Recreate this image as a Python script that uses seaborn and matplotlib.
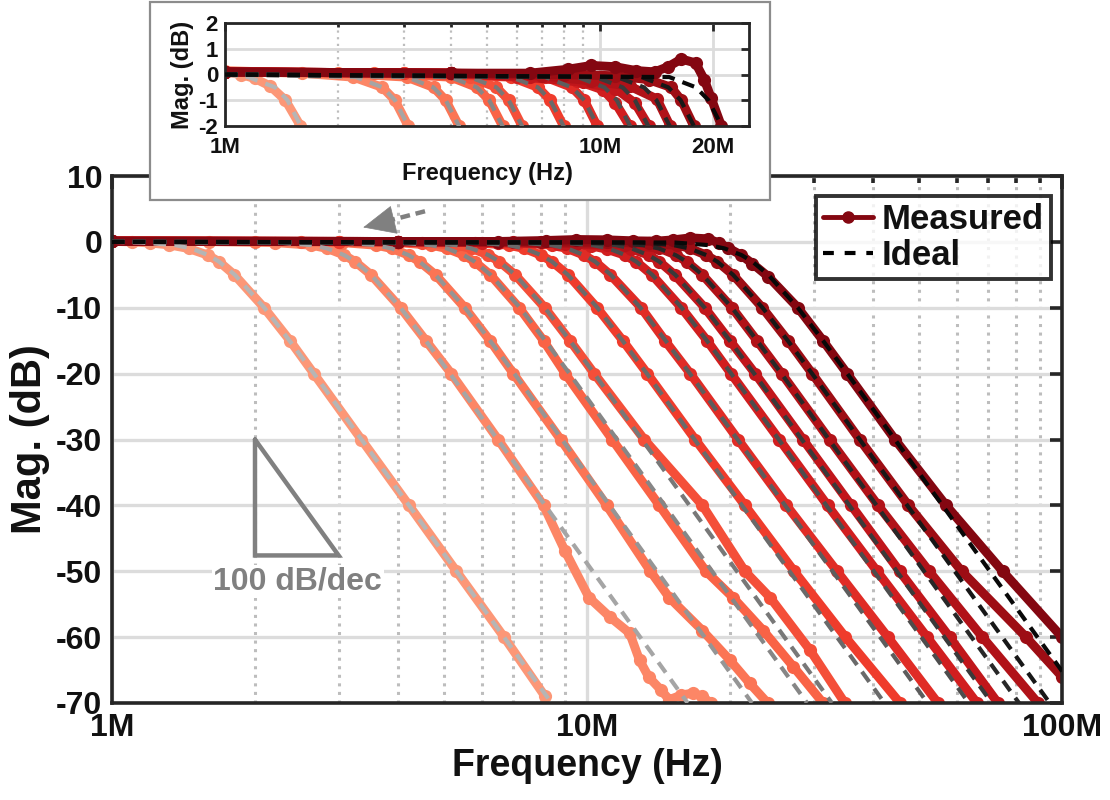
import numpy as np
import matplotlib
matplotlib.use("Agg")
import matplotlib.pyplot as plt
from matplotlib.lines import Line2D
from matplotlib.patches import Rectangle
from matplotlib.ticker import FixedLocator, FixedFormatter, NullFormatter
import seaborn as sns

# ---------------------------------------------------------------------------
# Measured low-pass responses (frequency in MHz, magnitude in dB), lightest
# (lowest cutoff) to darkest (highest cutoff).
# ---------------------------------------------------------------------------
m1_f = [1.0, 1.10, 1.20, 1.32, 1.45, 1.59, 1.68, 1.81, 2.09, 2.37, 2.66, 3.35, 4.22, 5.31, 6.69, 8.16]
m1_db = [0.1, 0.0, -0.15, -0.45, -1.0, -2.0, -3.0, -5.0, -10, -15, -20, -30, -40, -50, -60, -69]

m2_f = [1.0, 1.6, 2.2, 2.63, 2.84, 3.08, 3.25, 3.51, 4.05, 4.58, 5.18, 6.50, 8.10, 9.0, 10.1,
        11.2, 12.3, 12.9, 13.5, 14.3, 14.9, 15.8, 16.7, 17.5, 18.2]
m2_db = [0.15, 0.05, -0.1, -0.5, -1.0, -2.0, -3.0, -5.0, -10, -15, -20, -30, -40, -47, -54,
         -57, -59.4, -63.5, -66.1, -68, -69.5, -68.8, -68.5, -69, -70]

m3_f = [1.0, 2.0, 3.05, 3.60, 3.88, 4.21, 4.44, 4.80, 5.53, 6.25, 7.0, 8.8, 11.0, 13.6, 14.9, 17.5, 20.0, 22.0, 24.0]
m3_db = [0.1, 0.05, -0.1, -0.5, -1, -2, -3, -5, -10, -15, -20, -30, -40, -50, -54, -59, -63.5, -67, -70]

m4_f = [1.0, 2.5, 4.0, 4.70, 5.07, 5.50, 5.80, 6.26, 7.2, 8.1, 9.0, 11.3, 14.2, 17.8, 20.3, 23.5, 27.2, 31.4]
m4_db = [0.1, 0.05, -0.1, -0.5, -1, -2, -3, -5, -10, -15, -20, -30, -40, -50, -54, -59, -64.5, -70]

m5_f = [1.0, 3.0, 4.5, 5.30, 5.72, 6.20, 6.54, 7.06, 8.15, 9.21, 10.36, 13.2, 17.5, 21.5, 24.3, 29.5, 34.9]
m5_db = [0.1, 0.05, -0.1, -0.5, -1, -2, -3, -5, -10, -15, -20, -30, -40, -50, -54, -62, -70]

m6_f = [1.0, 3.0, 5.8, 6.84, 7.38, 8.0, 8.44, 9.12, 10.5, 11.9, 13.4, 16.9, 21.5, 27.3, 35.0, 45.6]
m6_db = [0.1, 0.05, -0.1, -0.5, -1, -2, -3, -5, -10, -15, -20, -30, -40, -50, -60, -70]

m7_f = [1.0, 4.0, 7.15, 8.42, 9.09, 9.84, 10.4, 11.2, 13.0, 14.6, 16.5, 20.8, 26.3, 33.6, 43.0, 54.8]
m7_db = [0.1, 0.05, -0.1, -0.5, -1, -2, -3, -5, -10, -15, -20, -30, -40, -50, -60, -70]

m8_f = [1.0, 4.0, 6.0, 8.7, 10.2, 11.0, 12.0, 12.7, 13.7, 15.8, 17.9, 20.1, 25.4, 32.1, 40.8, 52.0, 66.2]
m8_db = [0.1, 0.05, -0.1, -0.25, -0.6, -1.1, -2, -3, -5, -10, -15, -20, -30, -40, -50, -60, -70]

m9_f = [1.0, 4.0, 6.5, 9.0, 11.0, 12.4, 13.5, 14.2, 15.3, 17.7, 20.0, 22.6, 28.5, 36.0, 45.5, 58.0, 73.3]
m9_db = [0.1, 0.05, -0.1, -0.3, -0.55, -1.1, -2, -3, -5, -10, -15, -20, -30, -40, -50, -60, -70]

m10_f = [1.0, 4.0, 7.0, 9.5, 12.0, 14.2, 15.4, 16.2, 17.5, 20.2, 22.8, 25.7, 32.4, 41.0, 52.5, 68.0, 89.0]
m10_db = [0.1, 0.05, -0.05, -0.25, -0.45, -0.95, -2, -3, -5, -10, -15, -20, -30, -40, -50, -60, -70]

m11_f = [1.0, 4.0, 8.0, 11.0, 13.5, 15.5, 16.5, 17.8, 18.8, 20.3, 23.4, 26.5, 29.8, 37.5, 47.5, 61.5, 84.0, 100.0]
m11_db = [0.1, 0.05, 0.0, -0.05, -0.2, -0.5, -1.0, -2, -3, -5, -10, -15, -20, -30, -40, -50, -60, -66]

m12_f = [1.0, 4.0, 6.5, 8.2, 9.5, 11.0, 12.5, 14.0, 15.2, 16.5, 18.0, 19.0, 19.8, 21.1, 22.3, 24.1,
         27.8, 31.4, 35.3, 44.5, 57.0, 75.0, 100.0]
m12_db = [0.1, 0.05, 0.05, 0.2, 0.35, 0.3, 0.15, 0.1, 0.3, 0.6, 0.45, -0.2, -0.9, -2, -3.3, -5.3,
          -10, -15, -20, -30, -40, -50, -60]

# Ideal 5th-order responses: shared magnitude levels, per-curve frequencies (MHz)
ideal_db = [0, -0.1, -0.5, -1, -2, -3, -5, -10, -15, -20, -30, -40, -50, -60, -70]
i1_f = [1.0, 1.154, 1.361, 1.468, 1.593, 1.68, 1.814, 2.093, 2.365, 2.661, 3.352, 4.220, 5.312, 6.688, 8.420]
i2_f = [1.0, 2.233, 2.633, 2.841, 3.081, 3.25, 3.510, 4.050, 4.576, 5.148, 6.484, 8.164, 10.28, 12.94, 16.29]
i3_f = [1.0, 3.050, 3.596, 3.881, 4.209, 4.44, 4.795, 5.532, 6.252, 7.033, 8.858, 11.15, 14.04, 17.68, 22.25]
i4_f = [1.0, 3.985, 4.698, 5.069, 5.498, 5.80, 6.264, 7.227, 8.166, 9.187, 11.57, 14.57, 18.34, 23.09, 29.07]
i5_f = [1.0, 4.493, 5.297, 5.716, 6.200, 6.54, 7.063, 8.149, 9.208, 10.36, 13.05, 16.43, 20.68, 26.04, 32.78]
i6_f = [1.0, 5.798, 6.836, 7.377, 8.001, 8.44, 9.115, 10.52, 11.88, 13.37, 16.84, 21.20, 26.69, 33.60, 42.30]
i7_f = [1.0, 7.145, 8.424, 9.090, 9.859, 10.4, 11.23, 12.96, 14.64, 16.47, 20.75, 26.12, 32.88, 41.40, 52.12]
i8_f = [1.0, 8.725, 10.29, 11.10, 12.04, 12.7, 13.72, 15.82, 17.88, 20.12, 25.34, 31.90, 40.16, 50.56, 63.65]
i9_f = [1.0, 9.755, 11.50, 12.41, 13.46, 14.2, 15.34, 17.69, 19.99, 22.49, 28.33, 35.67, 44.90, 56.53, 71.17]
i10_f = [1.0, 11.13, 13.12, 14.16, 15.36, 16.2, 17.50, 20.19, 22.81, 25.66, 32.32, 40.69, 51.22, 64.49, 81.19]
i11_f = [1.0, 12.92, 15.23, 16.43, 17.82, 18.8, 20.30, 23.42, 26.47, 29.78, 37.51, 47.23, 59.45, 74.84, 94.23]
i12_f = [1.0, 15.32, 18.06, 19.49, 21.14, 22.3, 24.08, 27.79, 31.40, 35.32, 44.49, 56.02, 70.51, 88.78, 111.8]

main_xticks = [1, 10, 100]
main_xlabels = ["1M", "10M", "100M"]
main_yticks = [10, 0, -10, -20, -30, -40, -50, -60, -70]
inset_xticks = [1, 10, 20]
inset_xlabels = ["1M", "10M", "20M"]
inset_yticks = [2, 1, 0, -1, -2]

measured = [(m1_f, m1_db), (m2_f, m2_db), (m3_f, m3_db), (m4_f, m4_db), (m5_f, m5_db),
            (m6_f, m6_db), (m7_f, m7_db), (m8_f, m8_db), (m9_f, m9_db), (m10_f, m10_db),
            (m11_f, m11_db), (m12_f, m12_db)]
ideal = [i1_f, i2_f, i3_f, i4_f, i5_f, i6_f, i7_f, i8_f, i9_f, i10_f, i11_f, i12_f]

# ---------------------------------------------------------------------------
sns.set_theme(style="white")
plt.rcParams["font.family"] = ["Liberation Sans", "DejaVu Sans"]
plt.rcParams["font.weight"] = "bold"
plt.rcParams["axes.labelweight"] = "bold"
plt.rcParams["axes.unicode_minus"] = False

reds = sns.color_palette("Reds", as_cmap=True)
greys = sns.color_palette("Greys", as_cmap=True)
n = len(measured)
meas_colors = [reds(v) for v in np.linspace(0.36, 0.94, n)]
ideal_colors = [greys(v) for v in np.linspace(0.40, 0.97, n)]

SPINE = "#262626"
TEXT = "#111111"
DASH = (0, (3.0, 2.0))


def draw_curves(ax):
    for (f, db), c in zip(measured, meas_colors):
        sns.lineplot(x=f, y=db, ax=ax, color=c, lw=6.5, marker="o", markersize=9.5,
                     markeredgewidth=0, estimator=None, sort=False, legend=False, zorder=2)
    for f, c in zip(ideal, ideal_colors):
        sns.lineplot(x=f, y=ideal_db, ax=ax, color=c, lw=3.0, linestyle=DASH,
                     estimator=None, sort=False, legend=False, zorder=3)


def style_axes(ax, tick_size, major_len, minor_len, width):
    for s in ax.spines.values():
        s.set_visible(True)
        s.set_color(SPINE)
        s.set_linewidth(width)
    ax.tick_params(which="both", direction="in", top=True, right=True,
                   color=SPINE, width=width, labelsize=tick_size, labelcolor=TEXT)
    ax.tick_params(which="major", length=major_len)
    ax.tick_params(which="minor", length=minor_len)
    ax.set_axisbelow(True)


fig = plt.figure(figsize=(11.1, 8), dpi=100)

# ---------------- main axes ----------------
ax = fig.add_axes([112 / 1110, 1 - 703 / 800, 950 / 1110, 527 / 800])
draw_curves(ax)
ax.set_xscale("log")
ax.set_xlim(1, 100)
ax.set_ylim(-70, 10)
ax.xaxis.set_major_locator(FixedLocator(main_xticks))
ax.xaxis.set_major_formatter(FixedFormatter(main_xlabels))
ax.xaxis.set_minor_locator(FixedLocator([2, 3, 4, 5, 6, 7, 8, 9, 20, 30, 40, 50, 60, 70, 80, 90]))
ax.xaxis.set_minor_formatter(NullFormatter())
ax.set_yticks(main_yticks)
ax.set_yticklabels([str(v) for v in main_yticks])
ax.grid(which="major", color="#dcdcdc", lw=2.4, ls="-")
ax.grid(which="minor", axis="x", color="#bdbdbd", lw=2.2, ls=(0, (1, 1.8)))
style_axes(ax, 23, 9, 5, 2.6)
ax.tick_params(axis="y", pad=7)
ax.tick_params(axis="x", pad=7)
ax.set_xlabel("Frequency (Hz)", fontsize=27, fontweight="bold", color=TEXT, labelpad=4)
ax.set_ylabel("Mag. (dB)", fontsize=30, fontweight="bold", color=TEXT, labelpad=4)

# slope reference triangle
ax.plot([2, 2, 3, 2], [-30, -47.6, -47.6, -30], color="#808080", lw=3.2,
        solid_joinstyle="miter", zorder=4)
ax.text(2.46, -51.6, "100 dB/dec", color="#808080", fontsize=23, fontweight="bold",
        ha="center", va="center", zorder=4,
        bbox=dict(boxstyle="square,pad=0.05", facecolor="white", edgecolor="none"))

# arrow pointing towards the inset: dashed shaft plus a solid head
ax.plot([4.56, 3.77], [4.65, 3.1], color="#808080", lw=3.2, linestyle=(0, (2.2, 1.3)),
        solid_capstyle="butt", dash_capstyle="butt", zorder=5, clip_on=False)
ax.annotate("", xy=(3.38, 2.2), xytext=(3.80, 3.1),
            arrowprops=dict(arrowstyle="-|>,head_length=1.0,head_width=0.45",
                            color="#808080", lw=0.5, mutation_scale=22,
                            shrinkA=0, shrinkB=0),
            zorder=5, annotation_clip=False)

# legend
handles = [Line2D([0], [0], color=meas_colors[-1], lw=3.5, marker="o", markersize=8),
           Line2D([0], [0], color="black", lw=3.0, linestyle=(0, (2.6, 2.6)))]
leg = ax.legend(handles, ["Measured", "Ideal"], loc="upper right",
                bbox_to_anchor=(0.988, 0.962), fontsize=25, frameon=True, fancybox=False,
                handlelength=1.45, handletextpad=0.25, borderpad=0.2, labelspacing=0.1,
                borderaxespad=0)
leg.get_frame().set_edgecolor("black")
leg.get_frame().set_linewidth(2.8)
for t in leg.get_texts():
    t.set_fontweight("bold")
    t.set_color(TEXT)
leg.set_zorder(6)

# ---------------- inset ----------------
frame = Rectangle((150 / 1110, 1 - 200 / 800), 620 / 1110, 198 / 800, transform=fig.transFigure,
                  facecolor="white", edgecolor="#8c8c8c", lw=1.6, zorder=3)
fig.add_artist(frame)

axi = fig.add_axes([225 / 1110, 1 - 126 / 800, 524 / 1110, 103 / 800])
axi.set_zorder(4)
draw_curves(axi)
axi.set_xscale("log")
axi.set_xlim(1, 25)
axi.set_ylim(-2, 2)
axi.xaxis.set_major_locator(FixedLocator(inset_xticks))
axi.xaxis.set_major_formatter(FixedFormatter(inset_xlabels))
axi.xaxis.set_minor_locator(FixedLocator([2, 3, 4, 5, 6, 7, 8, 9]))
axi.xaxis.set_minor_formatter(NullFormatter())
axi.set_yticks(inset_yticks)
axi.set_yticklabels([str(v) for v in inset_yticks])
axi.grid(which="major", color="#dcdcdc", lw=2.0, ls="-")
axi.grid(which="minor", axis="x", color="#bdbdbd", lw=1.6, ls=(0, (1, 2)))
style_axes(axi, 16, 6, 3, 2.0)
axi.tick_params(axis="x", pad=8)
axi.tick_params(axis="y", pad=5)
axi.set_xlabel("Frequency (Hz)", fontsize=17, fontweight="bold", color=TEXT, labelpad=3)
axi.set_ylabel("Mag. (dB)", fontsize=17, fontweight="bold", color=TEXT, labelpad=3)

fig.savefig("out.png", dpi=100, facecolor="white")
